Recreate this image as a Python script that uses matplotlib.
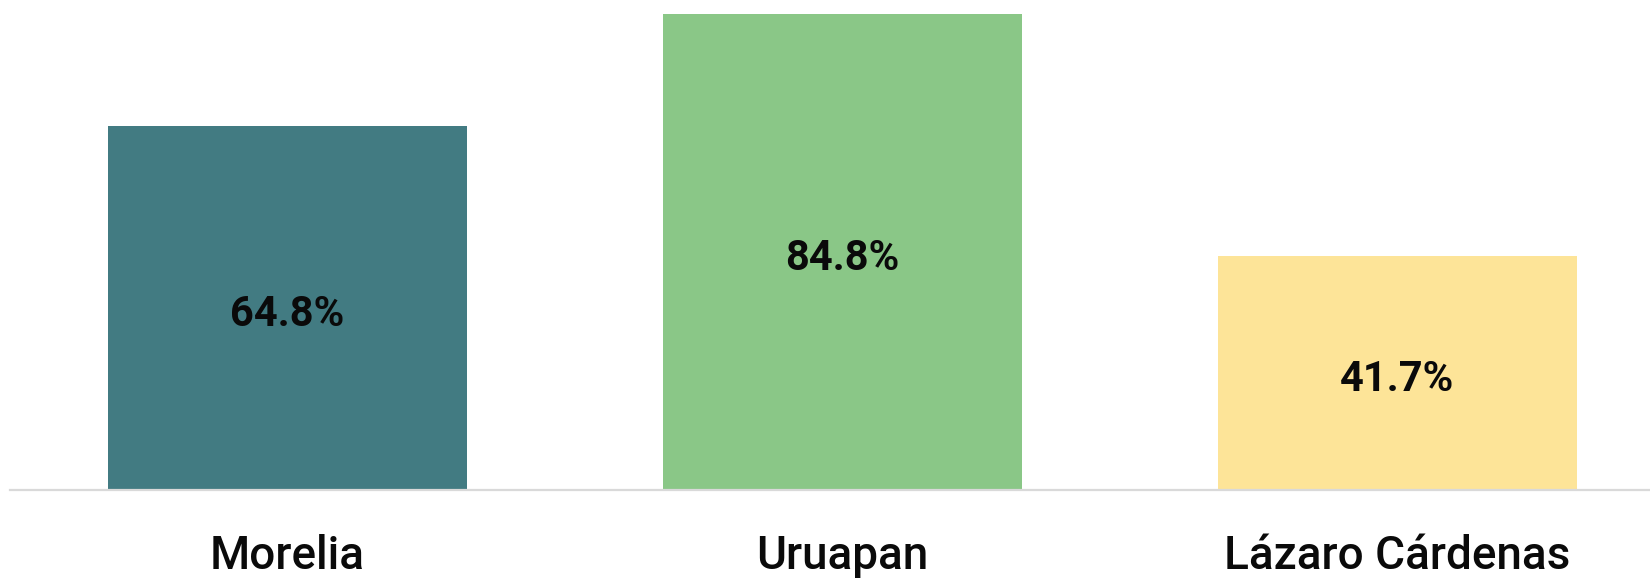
import matplotlib
matplotlib.use("Agg")
import matplotlib.pyplot as plt

categories = ["Morelia", "Uruapan", "Lázaro Cárdenas"]
values = [64.8, 84.8, 41.7]
value_labels = ["64.8%", "84.8%", "41.7%"]
colors = ["#427B82", "#8AC787", "#FDE498"]

W, H, DPI = 1650, 578, 100
fig = plt.figure(figsize=(W / DPI, H / DPI), dpi=DPI)
ax = fig.add_axes([10 / W, (H - 490) / H, 1 - 10 / W, 490 / H])

x = list(range(len(categories)))
ax.bar(x, values, width=0.647, color=colors, zorder=2)
ax.set_xlim(-0.5, 2.455)
ax.set_ylim(0, 87.27)

for s in ["top", "right", "left"]:
    ax.spines[s].set_visible(False)
ax.spines["bottom"].set_color("#d9d9d9")
ax.spines["bottom"].set_linewidth(1.6)
ax.spines["bottom"].set_zorder(3)
ax.set_yticks([])
ax.set_xticks([])

for xi, v, lab in zip(x, values, value_labels):
    ax.annotate(lab, (xi, v / 2), xytext=(0, -4.5), textcoords="offset points",
                ha="center", va="center", fontsize=30,
                fontweight="bold", family="Roboto", color="#0a0a0a")

trans = ax.get_xaxis_transform()
for xi, c in zip(x, categories):
    ax.text(xi, -79 / 490, c, ha="center", va="baseline", fontsize=33,
            fontweight="medium", family="Roboto", color="#0a0a0a",
            transform=trans, clip_on=False)

fig.savefig("out.png", dpi=DPI)
